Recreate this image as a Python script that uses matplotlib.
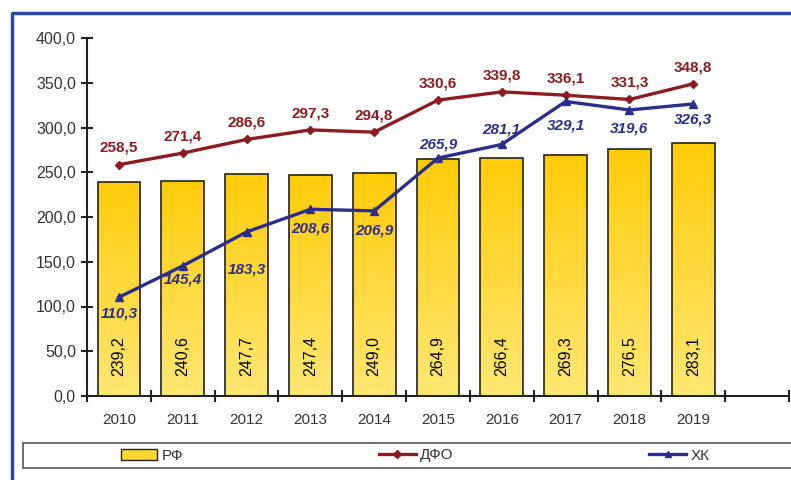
import numpy as np
import matplotlib.pyplot as plt
from matplotlib.patches import Rectangle
from matplotlib.lines import Line2D
from matplotlib.colors import LinearSegmentedColormap

plt.rcParams['font.family'] = ['Liberation Sans', 'DejaVu Sans']

# data
years = ['2010', '2011', '2012', '2013', '2014', '2015', '2016', '2017', '2018', '2019']
rf = [239.2, 240.6, 247.7, 247.4, 249.0, 264.9, 266.4, 269.3, 276.5, 283.1]
dfo = [258.5, 271.4, 286.6, 297.3, 294.8, 330.6, 339.8, 336.1, 331.3, 348.8]
hk = [110.3, 145.4, 183.3, 208.6, 206.9, 265.9, 281.1, 329.1, 319.6, 326.3]
# label offset for ХК values (points): >0 above the point, <0 below
hk_dy = [-6.5, -5, -22, -8.5, -9, 5, 6, -12, -8.5, -6.5]

red = '#8E1B1F'
navy = '#2B2E8A'
gray = '#333333'

fig = plt.figure(figsize=(7.91, 4.8), dpi=100)
ax = fig.add_axes([87 / 791, 84 / 480, 702 / 791, 358 / 480])

x = np.arange(len(years))
bars = ax.bar(x, rf, width=0.67, color='none', edgecolor='#222222', linewidth=1.2, zorder=2)

# yellow gradient inside the bars
grad = LinearSegmentedColormap.from_list('g', ['#FFE773', '#FFCC0A'])
g = np.linspace(0, 1, 100).reshape(-1, 1)
for b in bars:
    im = ax.imshow(g, cmap=grad, origin='lower', aspect='auto', zorder=1,
                   extent=[b.get_x(), b.get_x() + b.get_width(), 0, b.get_height()])
    im.set_clip_path(b)

for xi, v in zip(x, rf):
    ax.text(xi, 45, f'{v:.1f}'.replace('.', ','), rotation=90, ha='center', va='center',
            fontsize=11.5, color='black', zorder=5)

ax.plot(x, dfo, color=red, lw=2.4, marker='D', ms=4.5, zorder=3)
ax.plot(x, hk, color=navy, lw=2.4, marker='^', ms=6, zorder=4)

for xi, v in zip(x, dfo):
    ax.annotate(f'{v:.1f}'.replace('.', ','), (xi, v), xytext=(0, 7), textcoords='offset points',
                ha='center', va='bottom', fontsize=11, fontweight='bold', color=red)
for xi, v, dy in zip(x, hk, hk_dy):
    ax.annotate(f'{v:.1f}'.replace('.', ','), (xi, v), xytext=(0, dy), textcoords='offset points',
                ha='center', va='bottom' if dy > 0 else 'top', fontsize=11,
                fontweight='bold', fontstyle='italic', color=navy)

ax.set_xlim(-0.5, 10.5)
ax.set_ylim(0, 400)
ax.set_yticks(np.arange(0, 401, 50))
ax.set_yticklabels([f'{t:.1f}'.replace('.', ',') for t in np.arange(0, 401, 50)])
ax.set_xticks(x)
ax.set_xticklabels(years)
ax.set_xticks(np.arange(-0.5, 11, 1), minor=True)
ax.tick_params(axis='x', which='major', length=0, pad=12, labelsize=11, labelcolor=gray)
ax.tick_params(axis='x', which='minor', direction='inout', length=8, width=1.5, color='#222222')
ax.tick_params(axis='y', direction='inout', length=8, width=1.5, color='#222222',
               labelsize=11.5, labelcolor=gray, pad=4)
for s in ['top', 'right']:
    ax.spines[s].set_visible(False)
for s in ['left', 'bottom']:
    ax.spines[s].set_linewidth(1.5)
    ax.spines[s].set_color('#222222')
ax.patch.set_visible(False)

# blue frame on the left and top
fig.add_artist(Line2D([12 / 791, 12 / 791, 1], [0, 1 - 13 / 480, 1 - 13 / 480],
                      color='#2A4A9A', lw=2.5))

# legend box
fig.add_artist(Rectangle((23 / 791, 12 / 480), 1, 25 / 480, transform=fig.transFigure,
                         facecolor='white', edgecolor='#555555', lw=1.2))
handles = [Rectangle((0, 0), 1, 1, facecolor='#FFD633', edgecolor='#222222', lw=1),
           Line2D([], [], color=red, lw=2.4, marker='D', ms=4),
           Line2D([], [], color=navy, lw=2.4, marker='^', ms=5)]
fig.legend(handles, ['РФ', 'ДФО', 'ХК'], loc='center left', ncol=3, frameon=False,
           bbox_to_anchor=(107 / 791, 24.5 / 480), fontsize=11, handlelength=2.4,
           handleheight=0.7, handletextpad=0.3, columnspacing=12.8, labelcolor=gray)

fig.savefig('out.png', dpi=100)
